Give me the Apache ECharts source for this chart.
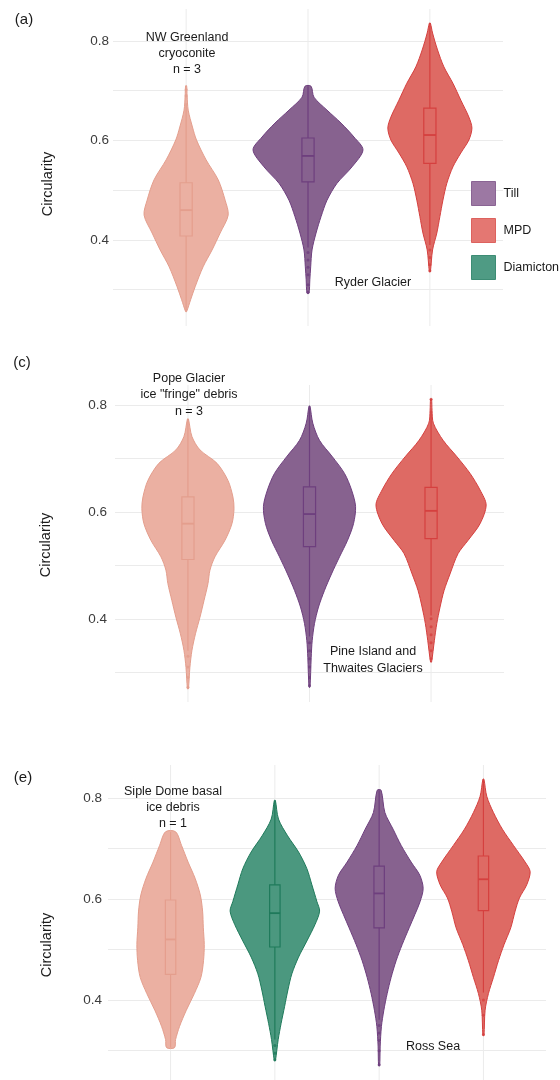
<!DOCTYPE html>
<html><head><meta charset="utf-8">
<script src="https://cdn.jsdelivr.net/npm/echarts@6/dist/echarts.min.js"></script>
<style>html,body{margin:0;padding:0;background:#fff}#c{width:560px;height:1080px}</style>
</head><body><div id="c"></div>
<script>
// ---------- categories ----------
const catsA = ['NW Greenland cryoconite', 'Till', 'MPD'];
const catsC = ['Pope Glacier ice "fringe" debris', 'Till', 'MPD'];
const catsE = ['Siple Dome basal ice debris', 'Diamicton', 'Till', 'MPD'];
const yTickLabels = ['0.4', '0.6', '0.8'];
const legendNames = ['Till', 'MPD', 'Diamicton'];

// ---------- violin profiles: circularity value and half-width (in category units) ----------
// (a)
const aCryoV = [0.710, 0.690, 0.661, 0.627, 0.601, 0.561, 0.521, 0.480, 0.450, 0.414, 0.380, 0.346, 0.306, 0.280, 0.256];
const aCryoW = [0.004, 0.008, 0.017, 0.052, 0.085, 0.164, 0.263, 0.320, 0.345, 0.279, 0.213, 0.139, 0.074, 0.037, 0.004];
const aTillV = [0.709, 0.687, 0.661, 0.635, 0.607, 0.581, 0.547, 0.514, 0.480, 0.447, 0.414, 0.380, 0.346, 0.320, 0.293];
const aTillW = [0.025, 0.049, 0.156, 0.271, 0.377, 0.451, 0.361, 0.238, 0.156, 0.107, 0.066, 0.033, 0.022, 0.015, 0.008];
const aMpdV  = [0.836, 0.816, 0.782, 0.748, 0.715, 0.681, 0.647, 0.625, 0.601, 0.575, 0.547, 0.514, 0.480, 0.447, 0.414, 0.380, 0.336];
const aMpdW  = [0.004, 0.022, 0.063, 0.115, 0.189, 0.254, 0.320, 0.345, 0.320, 0.254, 0.189, 0.139, 0.107, 0.082, 0.057, 0.022, 0.004];
// (c)
const cFrV   = [0.774, 0.741, 0.716, 0.691, 0.659, 0.628, 0.606, 0.578, 0.547, 0.516, 0.491, 0.466, 0.434, 0.403, 0.372, 0.341, 0.309, 0.269];
const cFrW   = [0.004, 0.033, 0.099, 0.239, 0.329, 0.370, 0.379, 0.362, 0.305, 0.222, 0.181, 0.165, 0.132, 0.099, 0.062, 0.033, 0.016, 0.004];
const cTillV = [0.798, 0.766, 0.734, 0.703, 0.672, 0.641, 0.610, 0.578, 0.547, 0.516, 0.484, 0.453, 0.422, 0.391, 0.359, 0.328, 0.272];
const cTillW = [0.004, 0.027, 0.082, 0.189, 0.288, 0.346, 0.379, 0.362, 0.313, 0.247, 0.181, 0.123, 0.074, 0.041, 0.022, 0.014, 0.004];
const cMpdV  = [0.811, 0.790, 0.766, 0.734, 0.703, 0.672, 0.641, 0.613, 0.578, 0.547, 0.522, 0.484, 0.453, 0.422, 0.391, 0.359, 0.319];
const cMpdW  = [0.004, 0.008, 0.019, 0.099, 0.214, 0.321, 0.403, 0.453, 0.403, 0.305, 0.222, 0.156, 0.107, 0.074, 0.047, 0.027, 0.004];
// (e)
const eBasV  = [0.733, 0.706, 0.673, 0.641, 0.608, 0.576, 0.543, 0.510, 0.478, 0.445, 0.413, 0.380, 0.348, 0.322, 0.306];
const eBasW  = [0.048, 0.105, 0.168, 0.235, 0.285, 0.307, 0.314, 0.323, 0.316, 0.291, 0.228, 0.151, 0.086, 0.048, 0.038];
const eDiaV  = [0.795, 0.758, 0.725, 0.693, 0.660, 0.628, 0.595, 0.576, 0.550, 0.517, 0.485, 0.452, 0.420, 0.387, 0.354, 0.322, 0.280];
const eDiaW  = [0.005, 0.035, 0.122, 0.227, 0.307, 0.355, 0.403, 0.429, 0.386, 0.307, 0.227, 0.163, 0.125, 0.093, 0.060, 0.032, 0.005];
const eTillV = [0.815, 0.771, 0.738, 0.706, 0.673, 0.647, 0.621, 0.595, 0.569, 0.543, 0.510, 0.478, 0.445, 0.413, 0.380, 0.348, 0.309, 0.270];
const eTillW = [0.019, 0.055, 0.134, 0.211, 0.307, 0.390, 0.422, 0.393, 0.342, 0.288, 0.221, 0.163, 0.115, 0.077, 0.045, 0.022, 0.010, 0.005];
const eMpdV  = [0.837, 0.803, 0.771, 0.738, 0.706, 0.673, 0.654, 0.628, 0.602, 0.576, 0.543, 0.510, 0.478, 0.445, 0.413, 0.380, 0.330];
const eMpdW  = [0.005, 0.032, 0.096, 0.182, 0.288, 0.400, 0.448, 0.415, 0.345, 0.304, 0.262, 0.198, 0.144, 0.096, 0.048, 0.016, 0.005];

// ---------- box stats: [whisker low, Q1, median, Q3, whisker high] and outliers ----------
const aCryoBox = [0.256, 0.408, 0.460, 0.515, 0.675]; const aCryoOut = [0.690, 0.702];
const aTillBox = [0.385, 0.517, 0.569, 0.605, 0.709]; const aTillOut = [0.375, 0.360, 0.345, 0.330, 0.310, 0.295];
const aMpdBox  = [0.390, 0.554, 0.611, 0.665, 0.836]; const aMpdOut  = [0.380, 0.365, 0.350, 0.338];
const cFrBox   = [0.340, 0.511, 0.578, 0.628, 0.774]; const cFrOut   = [0.330, 0.310, 0.290, 0.272];
const cTillBox = [0.367, 0.535, 0.596, 0.647, 0.798]; const cTillOut = [0.355, 0.340, 0.325, 0.310, 0.290, 0.275];
const cMpdBox  = [0.406, 0.550, 0.602, 0.646, 0.790]; const cMpdOut  = [0.811, 0.400, 0.385, 0.370, 0.355, 0.340, 0.325];
const eBasBox  = [0.306, 0.451, 0.520, 0.598, 0.733]; const eBasOut  = [];
const eDiaBox  = [0.322, 0.505, 0.572, 0.628, 0.795]; const eDiaOut  = [0.310, 0.295, 0.282];
const eTillBox = [0.361, 0.543, 0.611, 0.665, 0.815]; const eTillOut = [0.350, 0.335, 0.320, 0.300, 0.272];
const eMpdBox  = [0.415, 0.577, 0.639, 0.685, 0.837]; const eMpdOut  = [0.400, 0.370, 0.332];

// ---------- styles ----------
const COL = {
  src:  {fill: '#EBB0A2', stroke: '#E49E8D', legend: '#EBB0A2'},
  till: {fill: '#87628F', stroke: '#6E3F7E', legend: '#9C78A3'},
  mpd:  {fill: '#DE6A64', stroke: '#D5403F', legend: '#E47772'},
  dia:  {fill: '#4B987F', stroke: '#1F7A5B', legend: '#4F9B84'}
};
const FONT = "'Liberation Sans', Arial, Helvetica, sans-serif";

function violinRender(xPos, vals, wids, stats, outs, col) {
  return function (params, api) {
    const pts = [];
    for (let i = 0; i < vals.length; i++) pts.push(api.coord([xPos + wids[i], vals[i]]));
    for (let i = vals.length - 1; i >= 0; i--) pts.push(api.coord([xPos - wids[i], vals[i]]));
    const bw = 0.05;
    const lo = api.coord([xPos, stats[0]]), c1 = api.coord([xPos, stats[1]]);
    const c3 = api.coord([xPos, stats[3]]), hi = api.coord([xPos, stats[4]]);
    const bl = api.coord([xPos - bw, stats[1]]), tr = api.coord([xPos + bw, stats[3]]);
    const m0 = api.coord([xPos - bw, stats[2]]), m1 = api.coord([xPos + bw, stats[2]]);
    const children = [
      {type: 'polygon', shape: {points: pts, smooth: 0.3}, style: {fill: col.fill, stroke: col.stroke, lineWidth: 1}},
      {type: 'line', shape: {x1: lo[0], y1: lo[1], x2: c1[0], y2: c1[1]}, style: {stroke: col.stroke, lineWidth: 1.2}},
      {type: 'line', shape: {x1: c3[0], y1: c3[1], x2: hi[0], y2: hi[1]}, style: {stroke: col.stroke, lineWidth: 1.2}},
      {type: 'rect', shape: {x: bl[0], y: tr[1], width: tr[0] - bl[0], height: bl[1] - tr[1]}, style: {fill: 'none', stroke: col.stroke, lineWidth: 1.2}},
      {type: 'line', shape: {x1: m0[0], y1: m0[1], x2: m1[0], y2: m1[1]}, style: {stroke: col.stroke, lineWidth: 1.8}}
    ];
    outs.forEach(function (o) {
      const p = api.coord([xPos, o]);
      children.push({type: 'circle', shape: {cx: p[0], cy: p[1], r: 1.5}, style: {fill: col.stroke, opacity: 0.8}});
    });
    return {type: 'group', children: children};
  };
}

function violinSeries(name, panel, xPos, vals, wids, stats, outs, col) {
  return {
    type: 'custom', name: name, xAxisIndex: panel, yAxisIndex: panel, z: 3,
    itemStyle: {color: col.legend},
    data: [[xPos, stats[2]]],
    renderItem: violinRender(xPos, vals, wids, stats, outs, col),
    silent: true, animation: false
  };
}

function vGridSeries(panel, cats) {
  return {
    type: 'custom', xAxisIndex: panel, yAxisIndex: panel, z: 1, silent: true, animation: false,
    data: cats.map(function (c, i) { return [i + 1]; }),
    renderItem: function (params, api) {
      const cs = params.coordSys;
      const x = api.coord([api.value(0), 0.5])[0];
      return {type: 'line', shape: {x1: x, y1: cs.y, x2: x, y2: cs.y + cs.height}, style: {stroke: '#EBEBEB', lineWidth: 1}};
    }
  };
}

function yAxis(panel, min, max, margin) {
  return {
    type: 'value', gridIndex: panel, min: min, max: max,
    axisLine: {show: false}, axisTick: {show: false},
    splitLine: {show: true, showMinLine: false, showMaxLine: false, lineStyle: {color: '#EBEBEB', width: 1}},
    axisLabel: {
      margin: margin, color: '#3C3C3C', fontSize: 13.5, fontFamily: FONT,
      showMinLabel: false, showMaxLabel: false,
      formatter: function (v) { const s = v.toFixed(1); return (Math.abs(v * 10 - Math.round(v * 10)) < 1e-6 && yTickLabels.indexOf(s) >= 0) ? s : ''; }
    }
  };
}
function xAxis(panel, cats) {
  return {type: 'value', gridIndex: panel, min: 0.4, max: cats.length + 0.6, show: false};
}

function txt(text, x, y, size, extra) {
  return Object.assign({
    type: 'text', x: x, y: y, silent: true, z: 20,
    style: {text: text, x: 0, y: 0, fill: '#1A1A1A', font: size + 'px ' + FONT, textAlign: 'center', textVerticalAlign: 'middle', lineHeight: 16.3}
  }, extra || {});
}

const chart = echarts.init(document.getElementById('c'), null, {renderer: 'canvas'});
chart.setOption({
  backgroundColor: '#fff',
  animation: false,
  grid: [
    {left: 113, right: 57, top: 9, height: 317},
    {left: 115, right: 56, top: 385, height: 317},
    {left: 108, right: 14, top: 765, height: 319}
  ],
  xAxis: [xAxis(0, catsA), xAxis(1, catsC), xAxis(2, catsE)],
  yAxis: [yAxis(0, 0.2271, 0.8643, 4), yAxis(1, 0.2443, 0.8375, 8), yAxis(2, 0.2420, 0.8650, 6)],
  legend: {
    orient: 'vertical', left: 466, top: 176, itemWidth: 24, itemHeight: 24, itemGap: 12,
    icon: 'rect', selectedMode: false, z: 20,
    textStyle: {fontSize: 12.5, fontFamily: FONT, color: '#1A1A1A', padding: [0, 0, 0, 3]},
    data: [
      {name: legendNames[0], itemStyle: {color: COL.till.legend, borderColor: '#8A6494', borderWidth: 1}},
      {name: legendNames[1], itemStyle: {color: COL.mpd.legend, borderColor: '#DD625E', borderWidth: 1}},
      {name: legendNames[2], itemStyle: {color: COL.dia.legend, borderColor: '#3D8C74', borderWidth: 1}}
    ]
  },
  series: [
    vGridSeries(0, catsA), vGridSeries(1, catsC), vGridSeries(2, catsE),
    violinSeries(catsA[0], 0, 1, aCryoV, aCryoW, aCryoBox, aCryoOut, COL.src),
    violinSeries(catsA[1], 0, 2, aTillV, aTillW, aTillBox, aTillOut, COL.till),
    violinSeries(catsA[2], 0, 3, aMpdV, aMpdW, aMpdBox, aMpdOut, COL.mpd),
    violinSeries(catsC[0], 1, 1, cFrV, cFrW, cFrBox, cFrOut, COL.src),
    violinSeries(catsC[1], 1, 2, cTillV, cTillW, cTillBox, cTillOut, COL.till),
    violinSeries(catsC[2], 1, 3, cMpdV, cMpdW, cMpdBox, cMpdOut, COL.mpd),
    violinSeries(catsE[0], 2, 1, eBasV, eBasW, eBasBox, eBasOut, COL.src),
    violinSeries(catsE[1], 2, 2, eDiaV, eDiaW, eDiaBox, eDiaOut, COL.dia),
    violinSeries(catsE[2], 2, 3, eTillV, eTillW, eTillBox, eTillOut, COL.till),
    violinSeries(catsE[3], 2, 4, eMpdV, eMpdW, eMpdBox, eMpdOut, COL.mpd)
  ],
  graphic: [
    txt('(a)', 24, 20, 15),
    txt('(c)', 22, 363, 15),
    txt('(e)', 23, 778, 15),
    txt('Circularity', 47.5, 184, 14.5, {rotation: Math.PI / 2}),
    txt('Circularity', 46, 545, 14.5, {rotation: Math.PI / 2}),
    txt('Circularity', 46.5, 945, 14.5, {rotation: Math.PI / 2}),
    txt('NW Greenland\ncryoconite\nn = 3', 187, 53.5, 12.5),
    txt('Ryder Glacier', 373, 283, 12.5),
    txt('Pope Glacier\nice "fringe" debris\nn = 3', 189, 395, 12.5),
    txt('Pine Island and\nThwaites Glaciers', 373, 660, 12.5),
    txt('Siple Dome basal\nice debris\nn = 1', 173, 807.5, 12.5),
    txt('Ross Sea', 433, 1047, 12.5)
  ]
});
</script>
</body></html>
